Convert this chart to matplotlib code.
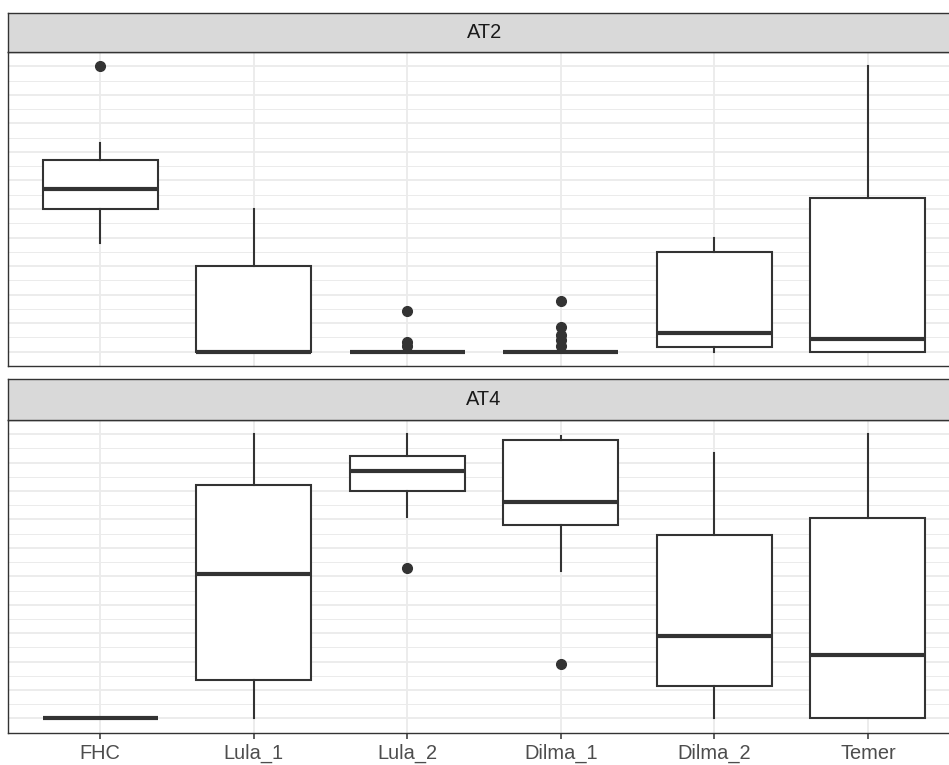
import numpy as np
import matplotlib.pyplot as plt
from matplotlib.ticker import MultipleLocator

plt.rcParams["font.family"] = ["Liberation Sans", "DejaVu Sans"]

groups = ["FHC", "Lula_1", "Lula_2", "Dilma_1", "Dilma_2", "Temer"]

# AT2 box statistics (whisker low, Q1, median, Q3, whisker high)
at2_low = [0.38, 0.0, 0.0, 0.0, 0.0, 0.0]
at2_q1 = [0.50, 0.0, 0.0, 0.0, 0.018, 0.0]
at2_med = [0.57, 0.0, 0.0, 0.0, 0.065, 0.045]
at2_q3 = [0.67, 0.30, 0.0, 0.0, 0.35, 0.54]
at2_high = [0.73, 0.50, 0.0, 0.0, 0.40, 1.0]
at2_out = [[1.0], [], [0.142, 0.02, 0.035], [0.177, 0.0875, 0.06, 0.04, 0.02], [], []]

# AT4 box statistics
at4_low = [0.0, 0.0, 0.71, 0.52, 0.0, 0.0]
at4_q1 = [0.0, 0.135, 0.80, 0.68, 0.114, 0.0]
at4_med = [0.0, 0.51, 0.87, 0.763, 0.29, 0.225]
at4_q3 = [0.0, 0.82, 0.925, 0.978, 0.647, 0.706]
at4_high = [0.0, 1.0, 1.0, 0.995, 0.933, 1.0]
at4_out = [[], [], [0.53], [0.19], [], []]

panels = [
    ("AT2", at2_low, at2_q1, at2_med, at2_q3, at2_high, at2_out),
    ("AT4", at4_low, at4_q1, at4_med, at4_q3, at4_high, at4_out),
]

dark = "#333333"
W, H = 949, 765
fig = plt.figure(figsize=(W / 100, H / 100), dpi=100)

# panel runs a little past the right edge of the figure
left_px, right_px = 8.2, 960.0
# (strip top, panel top, panel bottom) in pixels
rows = [(12.7, 52.0, 366.0), (379.3, 420.0, 732.7)]

for i, (name, lo, q1, med, q3, hi, out) in enumerate(panels):
    s_top, p_top, p_bot = rows[i]
    x0 = left_px / W
    w = (right_px - left_px) / W

    ax = fig.add_axes([x0, 1 - p_bot / H, w, (p_bot - p_top) / H])
    stats = []
    for k in range(len(groups)):
        stats.append(dict(whislo=lo[k], q1=q1[k], med=med[k], q3=q3[k],
                          whishi=hi[k], fliers=out[k]))
    ax.bxp(stats, positions=np.arange(1, 7), widths=0.75, showcaps=False,
           patch_artist=True,
           boxprops=dict(facecolor="white", edgecolor=dark, linewidth=1.5),
           medianprops=dict(color=dark, linewidth=3.0, solid_capstyle="butt"),
           whiskerprops=dict(color=dark, linewidth=1.5),
           flierprops=dict(marker="o", markersize=7, markerfacecolor=dark,
                           markeredgecolor=dark))

    ax.set_xlim(0.4, 6.6)
    ax.set_ylim(-0.05, 1.05)
    ax.yaxis.set_major_locator(MultipleLocator(0.1))
    ax.yaxis.set_minor_locator(MultipleLocator(0.05))
    ax.set_yticklabels([])
    ax.tick_params(axis="y", which="both", length=0)
    ax.grid(True, which="major", color="#EBEBEB", linewidth=1.3)
    ax.grid(True, which="minor", axis="y", color="#EBEBEB", linewidth=0.7)
    ax.set_axisbelow(True)
    ax.set_xticks(np.arange(1, 7))
    if i == len(panels) - 1:
        ax.set_xticklabels(groups, fontsize=14.4, color="#4D4D4D")
        ax.tick_params(axis="x", length=4, width=1.1, color=dark, pad=4)
    else:
        ax.set_xticklabels([])
        ax.tick_params(axis="x", length=0)
    for sp in ax.spines.values():
        sp.set_color(dark)
        sp.set_linewidth(1.0)

    # facet strip
    sax = fig.add_axes([x0, 1 - p_top / H, w, (p_top - s_top) / H])
    sax.set_facecolor("#D9D9D9")
    sax.set_xticks([])
    sax.set_yticks([])
    for sp in sax.spines.values():
        sp.set_color(dark)
        sp.set_linewidth(1.0)
    sax.text(0.5, 0.5, name, transform=sax.transAxes, ha="center",
             va="center", fontsize=14.4, color="#1A1A1A")

fig.savefig("out.png", dpi=100)
